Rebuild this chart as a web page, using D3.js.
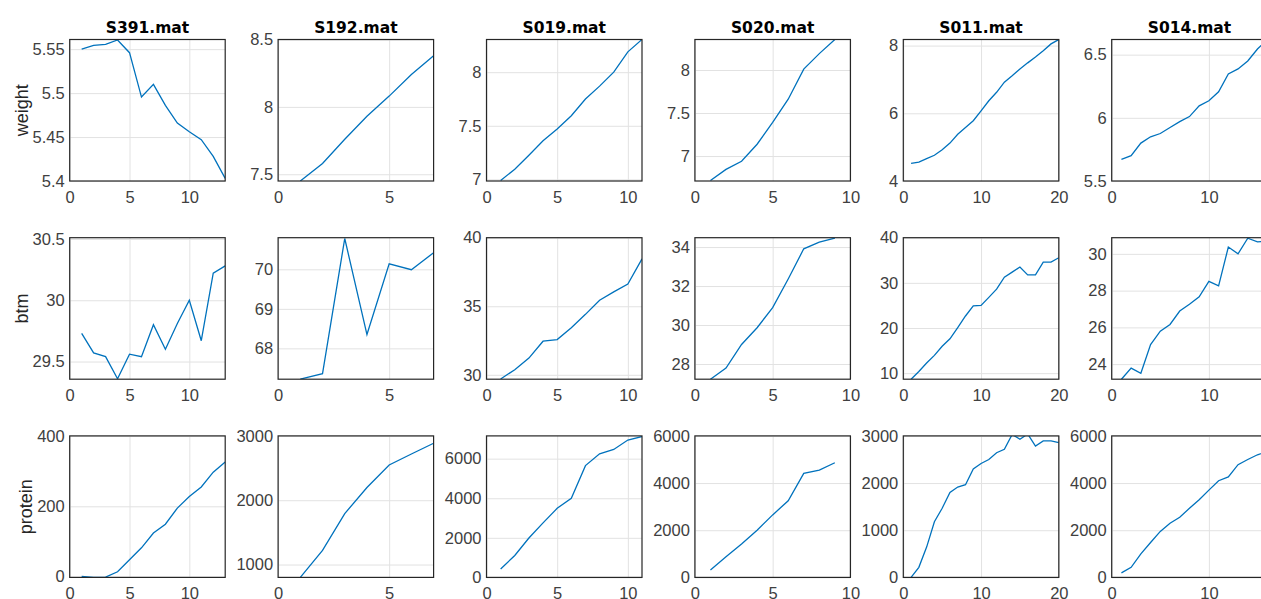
<!DOCTYPE html>
<meta charset="utf-8">
<style>
body { margin: 0; background: #fff; }
text { font-family: "Liberation Sans", Arial, sans-serif; }
.axis text { font-size: 16.5px; fill: #404040; }
.title { font-family: "DejaVu Sans", sans-serif; font-size: 15.5px; font-weight: bold; fill: #000; }
.ylabel { font-size: 18px; fill: #262626; }
.grid line { stroke: #e2e2e2; stroke-width: 1px; }
.box { fill: none; stroke: #262626; stroke-width: 1.2px; }
.series { fill: none; stroke: #0072bd; stroke-width: 1.3px; }
</style>
<body>
<script src="https://cdn.jsdelivr.net/npm/d3@7"></script>
<div id="content"></div>
<script>
var width = 1261,
    height = 599;

// subjects (columns) and measured variables (rows)
var subjects = ["S391.mat", "S192.mat", "S019.mat", "S020.mat", "S011.mat", "S014.mat"];
var variables = ["weight", "btm", "protein"];

var xMax = [13, 7, 11, 10, 20, 16];
var xTicks = [[0, 5, 10], [0, 5], [0, 5, 10], [0, 5, 10], [0, 10, 20], [0, 10]];

var weight = [
  [5.55, 5.5544, 5.5555, 5.5605, 5.546, 5.4955, 5.51, 5.486, 5.466, 5.456, 5.447, 5.428, 5.403],
  [7.45, 7.58, 7.76, 7.93, 8.08, 8.24, 8.38],
  [6.99, 7.095, 7.226, 7.36, 7.47, 7.594, 7.75, 7.87, 8.0, 8.19, 8.305],
  [6.716, 6.845, 6.94, 7.137, 7.39, 7.66, 8.01, 8.19, 8.354],
  [4.52, 4.56, 4.66, 4.76, 4.92, 5.12, 5.38, 5.58, 5.78, 6.07, 6.37, 6.62, 6.92, 7.11, 7.31, 7.49, 7.66, 7.85, 8.05, 8.18],
  [5.672, 5.70, 5.80, 5.85, 5.876, 5.924, 5.97, 6.01, 6.095, 6.135, 6.206, 6.347, 6.387, 6.45, 6.545, 6.62]
];
var weightLim = [[5.4, 5.561], [7.45, 8.5], [6.985, 8.305], [6.71, 8.354], [4, 8.18], [5.5, 6.62]];
var weightTicks = [[5.4, 5.45, 5.5, 5.55], [7.5, 8, 8.5], [7, 7.5, 8], [7, 7.5, 8], [4, 6, 8], [5.5, 6, 6.5]];

var btm = [
  [29.73, 29.57, 29.54, 29.36, 29.56, 29.54, 29.80, 29.60, 29.81, 30.0, 29.67, 30.22, 30.28],
  [67.22, 67.36, 70.78, 68.35, 70.14, 69.99, 70.42],
  [29.7, 30.37, 31.22, 32.45, 32.57, 33.43, 34.41, 35.44, 36.05, 36.62, 38.46],
  [27.22, 27.79, 29.0, 29.86, 30.89, 32.36, 33.91, 34.25, 34.46],
  [8.66, 10.36, 12.24, 13.94, 15.95, 17.6, 20.07, 22.66, 24.9, 25.0, 26.78, 28.6, 31.25, 32.37, 33.5, 31.77, 31.77, 34.6, 34.6, 35.57],
  [23.18, 23.78, 23.5, 25.06, 25.79, 26.16, 26.89, 27.26, 27.66, 28.5, 28.26, 30.37, 30.0, 30.85, 30.65, 30.7]
];
var btmLim = [[29.356, 30.51], [67.22, 70.8], [29.68, 40], [27.22, 34.48], [8.66, 40], [23.18, 30.88]];
var btmTicks = [[29.5, 30, 30.5], [68, 69, 70], [30, 35, 40], [28, 30, 32, 34], [10, 20, 30, 40], [24, 26, 28, 30]];

var protein = [
  [1, -2, -1, 14, 48, 82, 124, 149, 195, 228, 255, 297, 326],
  [800, 1219, 1792, 2198, 2547, 2719, 2886],
  [428, 1107, 1990, 2755, 3490, 4000, 5648, 6245, 6464, 6939, 7120],
  [315, 880, 1420, 2000, 2650, 3250, 4409, 4550, 4861],
  [0, 214, 643, 1179, 1465, 1800, 1915, 1965, 2301, 2415, 2500, 2644, 2715, 3030, 2929, 3040, 2786, 2893, 2893, 2858],
  [190, 430, 1000, 1480, 1950, 2300, 2550, 2930, 3290, 3700, 4100, 4260, 4780, 5000, 5200, 5330]
];
var proteinLim = [[-2, 400], [800, 3000], [0, 7150], [0, 6000], [0, 3000], [0, 6000]];
var proteinTicks = [[0, 200, 400], [1000, 2000, 3000], [0, 2000, 4000, 6000], [0, 2000, 4000, 6000], [0, 1000, 2000, 3000], [0, 2000, 4000, 6000]];

var rows = [
  {values: weight, lim: weightLim, ticks: weightTicks},
  {values: btm, lim: btmLim, ticks: btmTicks},
  {values: protein, lim: proteinLim, ticks: proteinTicks}
];

// subplot grid
var left0 = 69.7, colStep = 208.4, pw = 155.5;
var top0 = 39.5, rowStep = 198.2, ph = 141.5;

var svg = d3.select("#content").append("svg")
    .attr("width", width)
    .attr("height", height);

var fmt = d3.format("~g");

rows.forEach(function(row, r) {
  subjects.forEach(function(name, c) {
    var px = left0 + c * colStep,
        py = top0 + r * rowStep;

    var x = d3.scaleLinear().domain([0, xMax[c]]).range([0, pw]);
    var y = d3.scaleLinear().domain(row.lim[c]).range([ph, 0]);

    var g = svg.append("g").attr("transform", "translate(" + px + "," + py + ")");

    g.append("g").attr("class", "grid")
      .call(d3.axisLeft(y).tickValues(row.ticks[c]).tickSize(-pw).tickFormat(""))
      .call(g => g.select(".domain").remove());
    g.append("g").attr("class", "grid")
      .attr("transform", "translate(0," + ph + ")")
      .call(d3.axisBottom(x).tickValues(xTicks[c]).tickSize(-ph).tickFormat(""))
      .call(g => g.select(".domain").remove());

    var clipId = "clip-" + r + "-" + c;
    g.append("clipPath").attr("id", clipId)
      .append("rect").attr("width", pw).attr("height", ph);

    var line = d3.line()
      .x(function(d, i) { return x(i + 1); })
      .y(function(d) { return y(d); });

    g.append("path")
      .datum(row.values[c])
      .attr("class", "series")
      .attr("clip-path", "url(#" + clipId + ")")
      .attr("d", line);

    g.append("rect").attr("class", "box")
      .attr("width", pw).attr("height", ph);

    var ya = g.append("g").attr("class", "axis")
      .call(d3.axisLeft(y).tickValues(row.ticks[c]).tickSize(0).tickPadding(5).tickFormat(fmt))
      .call(g => g.select(".domain").remove());

    g.append("g").attr("class", "axis")
      .attr("transform", "translate(0," + ph + ")")
      .call(d3.axisBottom(x).tickValues(xTicks[c]).tickSize(0).tickPadding(10).tickFormat(fmt))
      .call(g => g.select(".domain").remove());

    if (r === 0) {
      g.append("text").attr("class", "title")
        .attr("x", pw / 2)
        .attr("y", -6.5)
        .attr("text-anchor", "middle")
        .text(name);
    }

    if (c === 0) {
      var bb = ya.node().getBBox();
      g.append("text").attr("class", "ylabel")
        .attr("transform", "translate(" + (bb.x - 5) + "," + (ph / 2) + ") rotate(-90)")
        .attr("text-anchor", "middle")
        .text(variables[r]);
    }
  });
});
</script>
